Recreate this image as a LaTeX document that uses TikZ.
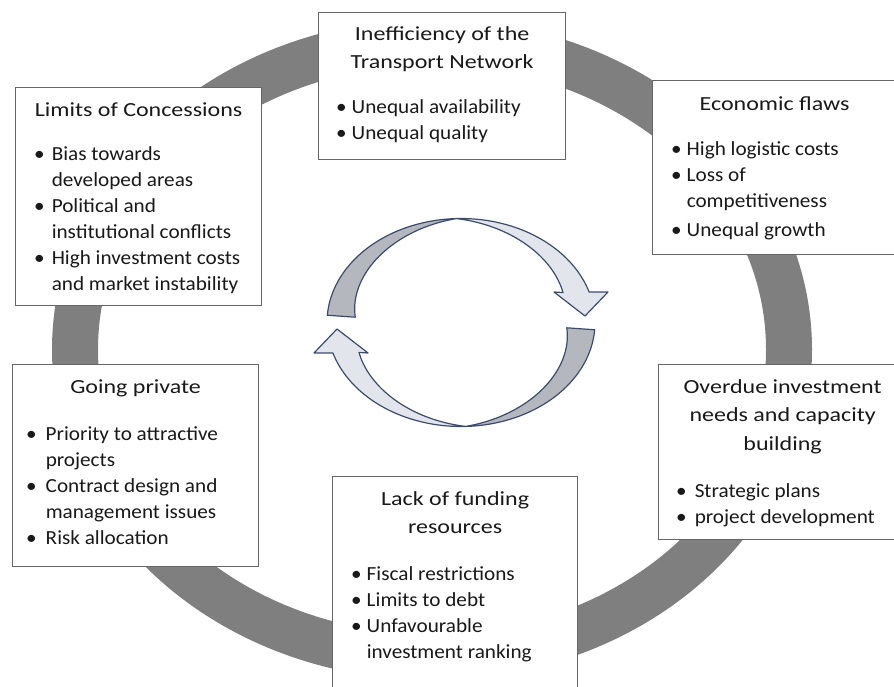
\documentclass[tikz,border=0pt]{standalone}
\usepackage{fontspec}
\setmainfont{Carlito}[FakeStretch=1.2]
\newfontfamily\listfont{Carlito}[FakeStretch=1.06]
\usetikzlibrary{positioning}
\definecolor{ringgray}{RGB}{127,127,127}
\definecolor{arrowline}{RGB}{61,75,107}
\definecolor{backside}{RGB}{181,183,191}
\definecolor{frontside}{RGB}{227,229,236}
\tikzset{
  cyclearrow/.pic={
    \filldraw[backface] plot[domain=176:92] ({134*cos(\x)},{-104*sin(\x)})
      -- plot[domain=92:176] ({(134-28*(\x-92)/84)*cos(\x)},{-(104-28*(\x-92)/84)*sin(\x)}) -- cycle;
    \filldraw[frontface] plot[domain=92:17] ({134*cos(\x)},{-104*sin(\x)})
      -- (147,-30.5) -- (124,-6.5) -- (93,-30.5)
      -- plot[domain=22:92] ({(134-24*(92-\x)/70)*cos(\x)},{-(104-24*(92-\x)/70)*sin(\x)}) -- cycle;
  },
}

\begin{document}
\begin{tikzpicture}[
    x=1pt, y=-1pt,
    ring/.style={draw=ringgray, line width=46pt},
    backface/.style={draw=arrowline, fill=backside, line width=1.2pt, line join=round},
    frontface/.style={draw=arrowline, fill=frontside, line width=1.2pt, line join=round},
    box/.style={draw=black!60, line width=1.2pt, fill=white, inner sep=0pt, anchor=north west},
    head/.style={align=center, inner sep=0pt, text=black!90,
      font=\fontsize{20}{28.5}\selectfont, execute at begin node=\strut},
    list/.style={inner sep=0pt, anchor=north west, text=black!90,
      font=\listfont\fontsize{20}{26}\selectfont},
    samples=40
]
    \useasboundingbox (0,0) rectangle (894,687);

    % grey ring
    \draw[ring] (432,349.5) ellipse [x radius=357, y radius=307.5];

    % the two turning arrows
    \pic at (461,322.5) {cyclearrow};
    \pic[rotate=180] at (461,322.5) {cyclearrow};

    % boxes
    \node[box, minimum width=247, minimum height=147] (ineff) at (318,12) {};
    \node[box, minimum width=246, minimum height=218] (limits) at (15,87) {};
    \node[box, minimum width=244, minimum height=174] (econ) at (652,80) {};
    \node[box, minimum width=248, minimum height=175] (overdue) at (658,364) {};
    \node[box, minimum width=245, minimum height=230] (lack) at (332,476) {};
    \node[box, minimum width=246, minimum height=202] (going) at (12,364) {};

    % titles
    \node[head, below=14pt of ineff.north] (ineffH) {Inefficiency of the\\Transport Network};
    \node[head, below=9pt of limits.north] (limitsH) {Limits of Concessions};
    \node[head, below=10pt of econ.north] (econH) {Economic flaws};
    \node[head, below=15pt of overdue.north] (overdueH) {Overdue investment\\needs and capacity\\building};
    \node[head, below=15pt of lack.north] (lackH) {Lack of funding\\resources};
    \node[head, below=9pt of going.north] (goingH) {Going private};

    % bullet lists
    \node[list] (ineffL) at ([shift={(18,82.8)}]ineff.north west) {%
      \begin{tabular}{@{}l@{\hspace{5pt}}l@{}}
        \textbullet & Unequal availability\\
        \textbullet & Unequal quality
      \end{tabular}};
    \node[list] (limitsL) at ([shift={(19,54.8)}]limits.north west) {%
      \begin{tabular}{@{}l@{\hspace{7pt}}l@{}}
        \textbullet & Bias towards\\
                    & developed areas\\
        \textbullet & Political and\\
                    & institutional conflicts\\
        \textbullet & High investment costs\\
                    & and market instability
      \end{tabular}};
    \node[list] (econL) at ([shift={(19,56.8)}]econ.north west) {%
      \begin{tabular}{@{}l@{\hspace{5pt}}l@{}}
        \textbullet & High logistic costs\\
        \textbullet & Loss of\\
                    & competitiveness\\[3pt]
        \textbullet & Unequal growth
      \end{tabular}};
    \node[list] (overdueL) at ([shift={(18,114.8)}]overdue.north west) {%
      \begin{tabular}{@{}l@{\hspace{8pt}}l@{}}
        \textbullet & Strategic plans\\
        \textbullet & project development
      \end{tabular}};
    \node[list] (lackL) at ([shift={(19,85.8)}]lack.north west) {%
      \begin{tabular}{@{}l@{\hspace{5pt}}l@{}}
        \textbullet & Fiscal restrictions\\
        \textbullet & Limits to debt\\
        \textbullet & Unfavourable\\
                    & investment ranking
      \end{tabular}};
    \node[list] (goingL) at ([shift={(14,57.8)}]going.north west) {%
      \begin{tabular}{@{}l@{\hspace{9pt}}l@{}}
        \textbullet & Priority to attractive\\
                    & projects\\
        \textbullet & Contract design and\\
                    & management issues\\
        \textbullet & Risk allocation
      \end{tabular}};
\end{tikzpicture}
\end{document}
